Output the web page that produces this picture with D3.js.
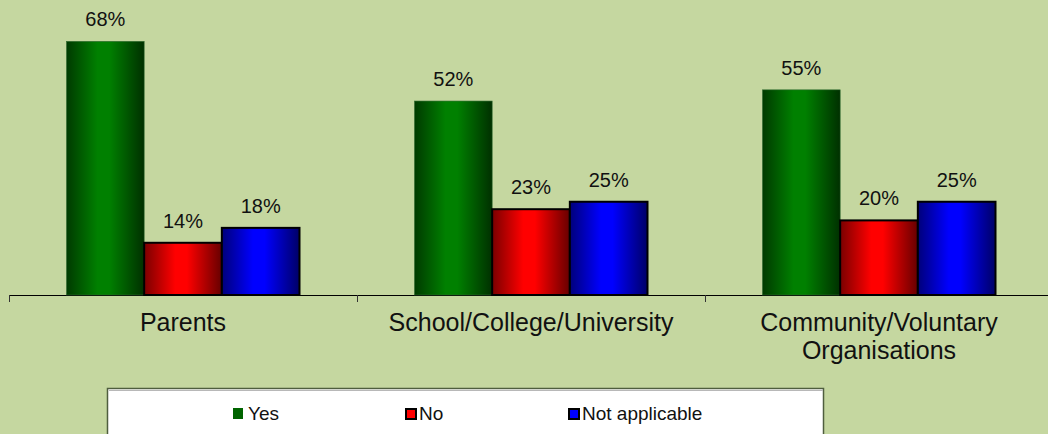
<!DOCTYPE html>
<html>
<head>
<meta charset="utf-8">
<script src="https://cdn.jsdelivr.net/npm/d3@7"></script>
<style>
  html, body { margin: 0; padding: 0; background: #c5d7a0; }
  svg { display: block; font-family: "Liberation Sans", Arial, sans-serif; }
</style>
</head>
<body>
<svg id="chart" width="1048" height="434"></svg>
<script>
const categories = ["Parents", "School/College/University", "Community/Voluntary Organisations"];
const seriesNames = ["Yes", "No", "Not applicable"];
const yesValues = [68, 52, 55];
const noValues = [14, 23, 20];
const naValues = [18, 25, 25];
const valueSuffix = "%";

const seriesValues = [yesValues, noValues, naValues];
const baseColors = ["#008000", "#ff0000", "#0000ff"];
const darkLeft = ["#003a00", "#7a0000", "#00007a"];
const darkRight = ["#003000", "#660000", "#000066"];
const legendFill = ["#006400", "#ff0000", "#0000ff"];

const svg = d3.select("#chart");
const W = 1048, H = 434;

svg.append("rect").attr("width", W).attr("height", H).attr("fill", "#c5d7a0");

const defs = svg.append("defs");
seriesNames.forEach((s, i) => {
  const g = defs.append("linearGradient").attr("id", "grad" + i)
    .attr("x1", "0%").attr("x2", "100%").attr("y1", "0%").attr("y2", "0%");
  g.append("stop").attr("offset", "0%").attr("stop-color", darkLeft[i]);
  g.append("stop").attr("offset", "40%").attr("stop-color", baseColors[i]);
  g.append("stop").attr("offset", "55%").attr("stop-color", baseColors[i]);
  g.append("stop").attr("offset", "100%").attr("stop-color", darkRight[i]);
});

const plotLeft = 9, catWidth = 348, baseY = 295;
const x0 = d3.scaleBand().domain(categories).range([plotLeft, plotLeft + catWidth * categories.length]).paddingInner(0).paddingOuter(0);
const groupW = 233;
const x1 = d3.scaleBand().domain(seriesNames).range([(catWidth - groupW) / 2, (catWidth - groupW) / 2 + groupW]).padding(0);
const y = d3.scaleLinear().domain([0, 80]).range([baseY, baseY - 80 * 3.73]);

// Axis
const axis = d3.axisBottom(x0).tickSize(0).tickFormat("");
const axG = svg.append("g").attr("transform", `translate(0,${baseY})`).call(axis);
axG.select(".domain").attr("stroke", "#000").attr("stroke-width", 1.2).attr("d", `M${plotLeft},0.5H${W + 10}`);
// category boundary ticks
const boundaries = categories.map(c => x0(c));
svg.selectAll("line.btick").data(boundaries).enter().append("line")
  .attr("class", "btick")
  .attr("x1", d => d + 0.5).attr("x2", d => d + 0.5)
  .attr("y1", baseY).attr("y2", baseY + 7)
  .attr("stroke", "#333").attr("stroke-width", 1);

// Bars
const groups = svg.selectAll("g.cat").data(categories).enter().append("g")
  .attr("class", "cat")
  .attr("transform", d => `translate(${x0(d)},0)`);

groups.each(function (c, ci) {
  const g = d3.select(this);
  seriesNames.forEach((s, si) => {
    const v = seriesValues[si][ci];
    const bx = x1(s), bw = x1.bandwidth();
    const r = g.append("rect")
      .attr("x", bx).attr("y", y(v))
      .attr("width", bw).attr("height", baseY - y(v))
      .attr("fill", `url(#grad${si})`);
    if (si > 0) {
      r.attr("stroke", "#000").attr("stroke-width", 2);
    } else {
      r.attr("stroke", "#2f6a2f").attr("stroke-width", 0.6);
    }
    g.append("text")
      .attr("x", bx + bw / 2).attr("y", y(v) - 15)
      .attr("text-anchor", "middle")
      .attr("font-size", 20).attr("fill", "#111")
      .text(v + valueSuffix);
  });
});

// Category labels with wrapping
const catFont = 25;
categories.forEach(c => {
  const t = svg.append("text")
    .attr("text-anchor", "middle")
    .attr("font-size", catFont).attr("fill", "#111");
  const cx = x0(c) + catWidth / 2;
  const words = c.split(" ");
  let lines = [], cur = [];
  words.forEach(w => {
    const test = cur.concat([w]).join(" ");
    const tmp = t.append("tspan").text(test);
    const len = tmp.node().getComputedTextLength();
    tmp.remove();
    if (len > 320 && cur.length) { lines.push(cur.join(" ")); cur = [w]; }
    else cur.push(w);
  });
  lines.push(cur.join(" "));
  lines.forEach((ln, i) => {
    t.append("tspan").attr("x", cx).attr("y", 331 + i * 28).text(ln);
  });
});

// Legend
const lg = svg.append("g");
lg.append("rect").attr("x", 107.5).attr("y", 388.5).attr("width", 716).attr("height", 60)
  .attr("fill", "#fff").attr("stroke", "#4f5e3e").attr("stroke-width", 1.5);
lg.append("line").attr("x1", 109).attr("x2", 823).attr("y1", 390.5).attr("y2", 390.5)
  .attr("stroke", "#b8b8b8").attr("stroke-width", 1);
const legendX = [233, 405, 568];
seriesNames.forEach((s, i) => {
  const gx = legendX[i];
  if (i === 0) {
    lg.append("rect").attr("x", gx).attr("y", 408).attr("width", 10).attr("height", 11)
      .attr("fill", legendFill[i]);
  } else {
    lg.append("rect").attr("x", gx + 1).attr("y", 409).attr("width", 10).attr("height", 10)
      .attr("fill", legendFill[i]).attr("stroke", "#000").attr("stroke-width", 2);
  }
  lg.append("text").attr("x", gx + (i === 0 ? 15 : 14)).attr("y", 420)
    .attr("font-size", 19).attr("fill", "#111").text(s);
});
</script>
</body>
</html>
